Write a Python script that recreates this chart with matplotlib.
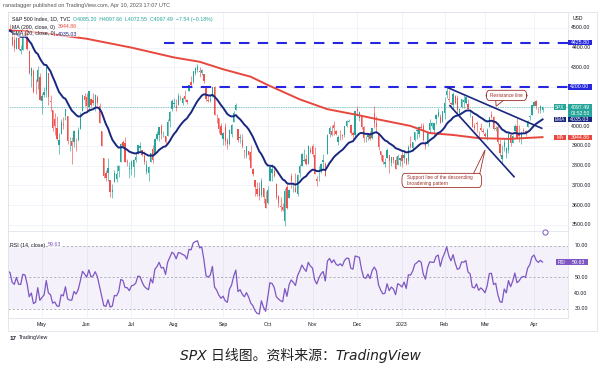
import numpy as np
import pandas as pd
import matplotlib
matplotlib.use('Agg')
import matplotlib.pyplot as plt
from matplotlib.patches import FancyBboxPatch, Rectangle, Polygon

plt.rcParams['font.family'] = ['Liberation Sans', 'DejaVu Sans']

# closes before the visible window (Feb 1 - Apr 6 2022), only to warm up EMA / RSI
warmup_close = [4546, 4589, 4477, 4500, 4484, 4521, 4587, 4504, 4419, 4401,
                4472, 4475, 4380, 4349, 4305, 4226, 4288, 4385, 4374,
                4306, 4387, 4363, 4329, 4201, 4171, 4278, 4260, 4204, 4173,
                4262, 4358, 4412, 4463, 4461, 4511, 4456, 4520, 4543, 4575,
                4632, 4602, 4530,
                4546, 4583, 4525, 4481]

# daily candles (open, high, low, close), one list per month
apr22 = [(4474, 4521, 4451, 4500), (4495, 4520, 4482, 4488), (4463, 4464, 4408, 4413),
         (4437, 4471, 4382, 4397), (4395, 4453, 4393, 4447), (4449, 4453, 4390, 4392),
         (4385, 4411, 4367, 4391), (4390, 4471, 4388, 4463), (4473, 4489, 4448, 4459),
         (4489, 4513, 4386, 4394), (4385, 4386, 4267, 4272), (4255, 4300, 4200, 4297),
         (4279, 4289, 4170, 4175), (4187, 4240, 4162, 4184), (4223, 4308, 4188, 4288),
         (4253, 4270, 4132, 4132)]
may22 = [(4130, 4169, 4062, 4155), (4159, 4200, 4147, 4175), (4181, 4308, 4148, 4300),
         (4270, 4270, 4107, 4147), (4128, 4158, 4077, 4123), (4081, 4081, 3976, 3991),
         (4035, 4069, 3958, 4001), (3991, 4050, 3929, 3935), (3904, 3964, 3859, 3930),
         (3963, 4039, 3959, 4024), (4013, 4046, 3984, 4008), (4053, 4090, 4034, 4088),
         (4052, 4052, 3911, 3923), (3900, 3946, 3877, 3901), (3927, 3944, 3810, 3901),
         (3920, 3982, 3894, 3974), (3943, 3943, 3875, 3941), (3929, 3999, 3925, 3979),
         (3985, 4075, 3984, 4058), (4078, 4158, 4078, 4158), (4152, 4168, 4105, 4132)]
jun22 = [(4149, 4167, 4074, 4101), (4096, 4177, 4074, 4177), (4137, 4143, 4099, 4109),
         (4134, 4168, 4109, 4121), (4097, 4164, 4080, 4161), (4148, 4161, 4107, 4116),
         (4101, 4120, 4017, 4018), (3975, 3975, 3901, 3901), (3838, 3838, 3735, 3750),
         (3763, 3778, 3722, 3735), (3765, 3838, 3723, 3790), (3729, 3729, 3640, 3667),
         (3665, 3708, 3636, 3675), (3715, 3779, 3715, 3765), (3733, 3802, 3717, 3760),
         (3774, 3802, 3743, 3796), (3821, 3913, 3821, 3912), (3920, 3928, 3889, 3900),
         (3913, 3945, 3820, 3821), (3826, 3836, 3800, 3819), (3785, 3819, 3739, 3785)]
jul22 = [(3781, 3829, 3753, 3825), (3792, 3832, 3742, 3831), (3831, 3871, 3817, 3845),
         (3859, 3906, 3859, 3903), (3889, 3919, 3875, 3899), (3880, 3880, 3847, 3855),
         (3851, 3874, 3811, 3819), (3770, 3829, 3758, 3802), (3764, 3796, 3722, 3791),
         (3818, 3863, 3818, 3863), (3883, 3903, 3814, 3831), (3861, 3940, 3861, 3937),
         (3935, 3974, 3928, 3960), (3955, 3999, 3927, 3999), (4000, 4013, 3938, 3962),
         (3966, 3975, 3944, 3967), (3953, 3953, 3911, 3921), (3951, 4039, 3951, 4024),
         (4027, 4079, 3998, 4072), (4088, 4141, 4079, 4130)]
aug22 = [(4113, 4144, 4097, 4119), (4105, 4141, 4080, 4091), (4108, 4167, 4108, 4155),
         (4155, 4161, 4135, 4152), (4116, 4151, 4108, 4145), (4155, 4186, 4129, 4140),
         (4133, 4138, 4113, 4122), (4181, 4211, 4181, 4210), (4227, 4257, 4201, 4208),
         (4225, 4280, 4219, 4280), (4270, 4301, 4262, 4297), (4284, 4318, 4278, 4305),
         (4281, 4302, 4253, 4275), (4273, 4292, 4263, 4284), (4267, 4267, 4218, 4228),
         (4195, 4195, 4130, 4138), (4134, 4160, 4124, 4128), (4127, 4166, 4124, 4141),
         (4154, 4200, 4147, 4199), (4199, 4203, 4057, 4058), (4034, 4062, 4017, 4031),
         (4041, 4044, 3965, 3986), (4000, 4016, 3955, 3955)]
sep22 = [(3937, 3970, 3903, 3967), (3995, 4019, 3907, 3924), (3930, 3942, 3886, 3909),
         (3910, 3987, 3906, 3980), (3960, 4010, 3944, 4006), (4022, 4077, 4022, 4067),
         (4084, 4119, 4084, 4110), (3985, 3985, 3922, 3932), (3940, 3961, 3915, 3946),
         (3932, 3959, 3888, 3901), (3880, 3880, 3837, 3873), (3849, 3901, 3839, 3900),
         (3875, 3877, 3827, 3856), (3871, 3907, 3789, 3790), (3782, 3790, 3750, 3758),
         (3727, 3727, 3647, 3693), (3682, 3716, 3644, 3655), (3686, 3718, 3624, 3647),
         (3651, 3737, 3640, 3720), (3688, 3688, 3611, 3640), (3633, 3672, 3585, 3586)]
oct22 = [(3609, 3698, 3605, 3678), (3723, 3791, 3723, 3791), (3761, 3807, 3723, 3783),
         (3771, 3797, 3744, 3745), (3706, 3710, 3633, 3640), (3647, 3653, 3588, 3612),
         (3596, 3641, 3568, 3589), (3590, 3608, 3570, 3577), (3520, 3685, 3491, 3669),
         (3690, 3712, 3582, 3583), (3638, 3683, 3638, 3677), (3746, 3762, 3686, 3720),
         (3696, 3719, 3668, 3696), (3689, 3762, 3665, 3666), (3657, 3757, 3647, 3753),
         (3762, 3810, 3741, 3797), (3799, 3862, 3799, 3859), (3825, 3887, 3824, 3831),
         (3834, 3859, 3803, 3808), (3808, 3905, 3808, 3901), (3881, 3893, 3863, 3872)]
nov22 = [(3901, 3911, 3843, 3857), (3853, 3894, 3758, 3760), (3733, 3750, 3698, 3720),
         (3767, 3796, 3721, 3771), (3780, 3813, 3764, 3807), (3817, 3859, 3786, 3828),
         (3810, 3818, 3749, 3749), (3860, 3959, 3860, 3957), (3963, 4002, 3945, 3993),
         (3977, 4009, 3949, 3957), (4007, 4028, 3954, 3992), (3976, 3983, 3955, 3959),
         (3920, 3955, 3907, 3947), (3966, 3979, 3932, 3965), (3957, 3962, 3934, 3950),
         (3958, 4003, 3947, 4003), (4000, 4034, 3997, 4027), (4024, 4035, 4021, 4026),
         (4006, 4013, 3956, 3964), (3965, 3977, 3938, 3958), (3957, 4080, 3937, 4080)]
dec22 = [(4087, 4101, 4050, 4076), (4041, 4080, 4026, 4072), (4053, 4053, 3984, 3999),
         (3996, 4002, 3919, 3941), (3934, 3951, 3922, 3934), (3947, 3966, 3933, 3964),
         (3954, 3977, 3933, 3934), (3940, 3991, 3937, 3991), (4069, 4101, 3994, 4019),
         (4016, 4053, 3965, 3996), (3959, 3959, 3879, 3896), (3876, 3876, 3828, 3852),
         (3853, 3855, 3806, 3818), (3811, 3839, 3795, 3821), (3839, 3889, 3839, 3879),
         (3853, 3853, 3765, 3822), (3815, 3845, 3798, 3845), (3843, 3846, 3813, 3829),
         (3829, 3849, 3783, 3783), (3805, 3858, 3805, 3849), (3829, 3840, 3800, 3840)]
jan23 = [(3853, 3878, 3794, 3824), (3840, 3873, 3815, 3853), (3840, 3840, 3802, 3808),
         (3823, 3907, 3810, 3895), (3910, 3950, 3890, 3893), (3889, 3919, 3877, 3919),
         (3932, 3970, 3925, 3970), (3977, 3997, 3937, 3983), (3960, 4003, 3947, 3999),
         (3999, 4015, 3984, 3991), (4002, 4015, 3926, 3929), (3911, 3923, 3885, 3899),
         (3909, 3973, 3899, 3973), (3979, 4039, 3971, 4019), (4001, 4023, 3990, 4017),
         (3982, 4019, 3950, 4016), (4037, 4061, 4013, 4060), (4053, 4094, 4049, 4071),
         (4049, 4063, 4015, 4018), (4021, 4077, 4021, 4077)]
feb23 = [(4070, 4148, 4038, 4120), (4158, 4195, 4142, 4180), (4137, 4183, 4124, 4136),
         (4120, 4124, 4094, 4111), (4106, 4176, 4089, 4164), (4153, 4157, 4112, 4118),
         (4144, 4157, 4070, 4082), (4068, 4094, 4060, 4090), (4096, 4138, 4092, 4137),
         (4126, 4159, 4095, 4136), (4119, 4149, 4113, 4148), (4114, 4137, 4090, 4090),
         (4077, 4081, 4048, 4079), (4052, 4052, 3995, 3997), (4001, 4017, 3981, 3991),
         (4018, 4029, 3972, 4012), (3973, 3978, 3943, 3970), (3992, 4018, 3977, 3982),
         (3977, 3994, 3968, 3970)]
mar23 = [(3963, 3971, 3939, 3951), (3938, 3990, 3928, 3982), (3998, 4048, 3995, 4046),
         (4055, 4079, 4044, 4048), (4049, 4051, 3980, 3986), (3987, 4001, 3975, 3992),
         (3998, 4017, 3908, 3919), (3912, 3934, 3847, 3862), (3835, 3905, 3809, 3856),
         (3895, 3938, 3874, 3920), (3864, 3894, 3838, 3892), (3879, 3965, 3865, 3960),
         (3958, 3959, 3901, 3917), (3917, 3956, 3917, 3951), (3975, 4010, 3971, 4003),
         (4003, 4040, 3936, 3937), (3959, 4007, 3918, 3949), (3940, 3973, 3909, 3971),
         (3982, 3993, 3970, 3977), (3974, 3979, 3951, 3971), (3999, 4031, 3999, 4028),
         (4046, 4059, 4032, 4051), (4056, 4110, 4056, 4109)]
apr23 = [(4102, 4128, 4101, 4125), (4128, 4134, 4086, 4101), (4094, 4100, 4070, 4091),
         (4082, 4108, 4069, 4105), (4085.20, 4097.66, 4072.55, 4097.49)]

months = [('', apr22), ('May', may22), ('Jun', jun22), ('Jul', jul22), ('Aug', aug22),
          ('Sep', sep22), ('Oct', oct22), ('Nov', nov22), ('Dec', dec22), ('2023', jan23),
          ('Feb', feb23), ('Mar', mar23), ('Apr', apr23)]

# 200-day MA at a few trading-day positions
ma_pos = [0, 16, 37, 58, 78, 90, 101, 114, 122, 137, 150, 164, 173, 189, 198, 209, 221, 235, 251]
ma_val = [4490, 4475, 4445, 4400, 4350, 4328, 4290, 4252, 4210, 4137, 4087, 4058, 4037,
          4002, 3966, 3956, 3940, 3936, 3945]

last_price = 4097.49
ema_last = 4035.03
ma_last = 3944.86
rsi_last = 59.63

UP, DOWN = '#26a69a', '#ef5350'
NAVY, RED, BLUE, PURPLE = '#1a2780', '#e8473d', '#2626e0', '#7e57c2'

rows = [r for _, m in months for r in m]
o = np.array([r[0] for r in rows], float)
h = np.array([r[1] for r in rows], float)
l = np.array([r[2] for r in rows], float)
c = np.array([r[3] for r in rows], float)
x = np.arange(len(rows))
tick_pos, tick_lab = [], []
start = 0
for name, m in months:
    if name:
        tick_pos.append(start)
        tick_lab.append(name)
    start += len(m)

all_close = pd.Series(warmup_close + list(c))
ema = all_close.ewm(span=20, adjust=False).mean().values[-len(c):]
d = all_close.diff()
up = d.clip(lower=0).ewm(alpha=1 / 14, adjust=False).mean()
dn = (-d.clip(upper=0)).ewm(alpha=1 / 14, adjust=False).mean()
rsi = (100 - 100 / (1 + up / dn)).values[-len(c):]

# pixel layout helpers
W, H = 600, 368
def fx(px): return px / W
def fy(py): return 1 - py / H

fig = plt.figure(figsize=(6, 3.68), dpi=100)
ax = fig.add_axes([fx(8), fy(231), fx(568) - fx(8), fy(12) - fy(231)])
ax2 = fig.add_axes([fx(8), fy(318), fx(568) - fx(8), fy(231) - fy(318)], sharex=ax)

x_left = 16 - 34 / 2.13
x_right = 16 + (568 - 42) / 2.13
ax.set_xlim(x_left, x_right)
ax.set_ylim(3468, 4581)
ax2.set_ylim(24.3, 79.3)

for a in (ax, ax2):
    a.set_xticks([])
    a.set_yticks([])
    for s in a.spines.values():
        s.set_color('#e0e3eb')
        s.set_linewidth(0.6)
    for t in tick_pos:
        a.axvline(t, color='#f0f3fa', lw=0.7, zorder=0)
for p in range(3500, 4600, 100):
    ax.axhline(p, color='#f0f3fa', lw=0.7, zorder=0)

# candles
col = np.where(c >= o, UP, DOWN)
ax.vlines(x, l, h, colors=col, lw=0.45, zorder=2)
body = np.maximum(np.abs(c - o), 2)
ax.bar(x, body, bottom=np.minimum(o, c), width=0.62, color=col, lw=0, zorder=2)

ax.plot(ma_pos, ma_val, color=RED, lw=1.4, zorder=3)
ax.plot(x, ema, color=NAVY, lw=1.4, zorder=3)
ax.axhline(last_price, color=UP, ls=(0, (1, 1.5)), lw=0.5, zorder=1)

# horizontal levels
ax.plot([73.3, x_right], [4425.8, 4425.8], color=BLUE, lw=1.5, ls=(0, (5, 4)), zorder=3)
ax.plot([81.7, x_right], [4200, 4200], color=BLUE, lw=1.5, ls=(0, (5, 4)), zorder=3)

# trend lines
ax.plot([206.6, 250.6], [4196, 3990], color=NAVY, lw=1.2, zorder=4)
ax.plot([207.5, 237.6], [4105, 3744], color=NAVY, lw=1.2, zorder=4)

# callouts
BR = '#a0302a'
ax.add_patch(Polygon([[229.0, 4135], [233.0, 4135], [229.2, 4102]], closed=True,
                     fc='white', ec=BR, lw=0.6, zorder=5))
ax.add_patch(FancyBboxPatch((224.6, 4131), 19, 52, boxstyle='round,pad=0,rounding_size=1.5',
                            mutation_aspect=20, fc='white', ec=BR, lw=0.6, zorder=6))
ax.text(234.1, 4157, 'Resistance line', fontsize=3.4, color=BR, ha='center', va='center', zorder=7)
ax.add_patch(Polygon([[218.5, 3758], [221.5, 3758], [224.0, 3880]], closed=True,
                     fc='white', ec=BR, lw=0.6, zorder=5))
ax.add_patch(FancyBboxPatch((185.0, 3689), 37.4, 72, boxstyle='round,pad=0,rounding_size=1.5',
                            mutation_aspect=20, fc='white', ec=BR, lw=0.6, zorder=6))
ax.text(187.5, 3725, 'Support line of the descending\nbroadening pattern', fontsize=3.4,
        color=BR, ha='left', va='center', linespacing=1.3, zorder=7)

# RSI pane
ax2.axhspan(30, 70, color=PURPLE, alpha=0.08, lw=0)
for v in (70, 50, 30):
    ax2.axhline(v, color='#9598a1', lw=0.5, ls=(0, (3, 3)))
ax2.plot(x, rsi, color=PURPLE, lw=0.9)

# price axis labels
yt = ax.get_yaxis_transform()
ax.text(1.0085, 4548, 'USD', transform=yt, fontsize=3.6, color='#131722', va='center', clip_on=False)
for p in range(3500, 4600, 100):
    ax.text(1.0234, p, '%d.00' % p, transform=yt, fontsize=3.8, color='#131722',
            ha='center', va='center', clip_on=False)

def tag(a, tr, y, hgt, x0, w, fc, txt, fs=3.8):
    a.add_patch(Rectangle((x0, y - hgt / 2), w, hgt, transform=tr, fc=fc, ec='none',
                          clip_on=False, zorder=8))
    a.text(x0 + w / 2, y, txt, transform=tr, fontsize=fs, color='white', ha='center',
           va='center', clip_on=False, zorder=9)

tag(ax, yt, 4425.8, 29, 1.0, 0.043, BLUE, '4425.80')
tag(ax, yt, 4200, 29, 1.0, 0.043, BLUE, '4200.00')
ax.add_patch(Rectangle((1.0, last_price - 50), 0.043, 65, transform=yt, fc=UP, ec='none',
                       clip_on=False, zorder=8))
ax.text(1.0215, last_price, '4097.49', transform=yt, fontsize=3.8, color='white', ha='center',
        va='center', clip_on=False, zorder=9)
ax.text(1.0215, last_price - 32, '01:52:50', transform=yt, fontsize=3.5, color='white',
        ha='center', va='center', clip_on=False, zorder=9)
tag(ax, yt, last_price, 29, 0.975, 0.021, UP, 'SPX', 3.4)
tag(ax, yt, ema_last, 29, 1.0, 0.043, NAVY, '4035.03')
tag(ax, yt, ema_last, 29, 0.975, 0.021, NAVY, 'EMA', 3.4)
tag(ax, yt, ma_last, 27, 1.0, 0.043, RED, '3944.86')
tag(ax, yt, ma_last, 27, 0.975, 0.021, RED, 'MA', 3.4)

yt2 = ax2.get_yaxis_transform()
for v in (70, 50, 40, 30):
    ax2.text(1.0234, v, '%d.00' % v, transform=yt2, fontsize=3.8, color='#131722',
             ha='center', va='center', clip_on=False)
tag(ax2, yt2, rsi_last, 3.8, 1.0, 0.036, PURPLE, '59.63')
tag(ax2, yt2, rsi_last, 3.8, 0.9785, 0.0215, PURPLE, 'RSI', 3.4)
ax2.scatter([0.959], [0.985], s=14, marker='o', fc='white', ec=PURPLE, lw=0.7,
            transform=ax2.transAxes, clip_on=False, zorder=9)

# time axis
xt = ax2.get_xaxis_transform()
for t, lab in zip(tick_pos, tick_lab):
    ax2.text(t, -0.07, lab, transform=xt, fontsize=3.8, color='#131722', ha='center',
             va='center', clip_on=False)

# outer frame
fig.add_artist(Rectangle((fx(8), fy(331)), fx(597) - fx(8), fy(12) - fy(331),
                         transform=fig.transFigure, fill=False, ec='#e0e3eb', lw=0.6))

# legends: each value is placed right after its label
fig.canvas.draw()
renderer = fig.canvas.get_renderer()

def legend_line(px, py, parts):
    xpos = px
    for txt, color in parts:
        t = fig.text(fx(xpos), fy(py), txt, fontsize=3.8, color=color, va='center',
                     bbox=dict(fc='white', ec='none', alpha=0.6, pad=0.3))
        xpos += t.get_window_extent(renderer).width + 3

fig.text(fx(3), fy(6), 'ranadagger published on TradingView.com, Apr 10, 2023 17:07 UTC',
         fontsize=4, color='#555555', va='center')
legend_line(12, 19, [('S&P 500 Index, 1D, TVC', '#131722'),
                     ('O4085.20  H4097.66  L4072.55  C4097.49  \u22127.54 (\u22120.18%)', UP)])
legend_line(12, 27, [('MA (200, close, 0)', '#131722'), ('3944.86', RED)])
legend_line(12, 34, [('EMA (20, close, 0)', '#131722'), ('4035.03', NAVY)])
legend_line(10, 245, [('RSI (14, close)', '#131722'), ('59.63', PURPLE)])

fig.text(fx(10), fy(338), '17', fontsize=4.5, fontweight='bold', color='#131722', va='center')
fig.text(fx(19), fy(338), 'TradingView', fontsize=3.8, color='#131722', va='center')

fig.text(0.5, fy(355), 'SPX 日线图。资料来源：TradingView', fontsize=10, style='italic',
         family=['DejaVu Sans', 'Noto Sans CJK SC'], color='#222222', ha='center', va='center')

plt.savefig('out.png', dpi=100)
